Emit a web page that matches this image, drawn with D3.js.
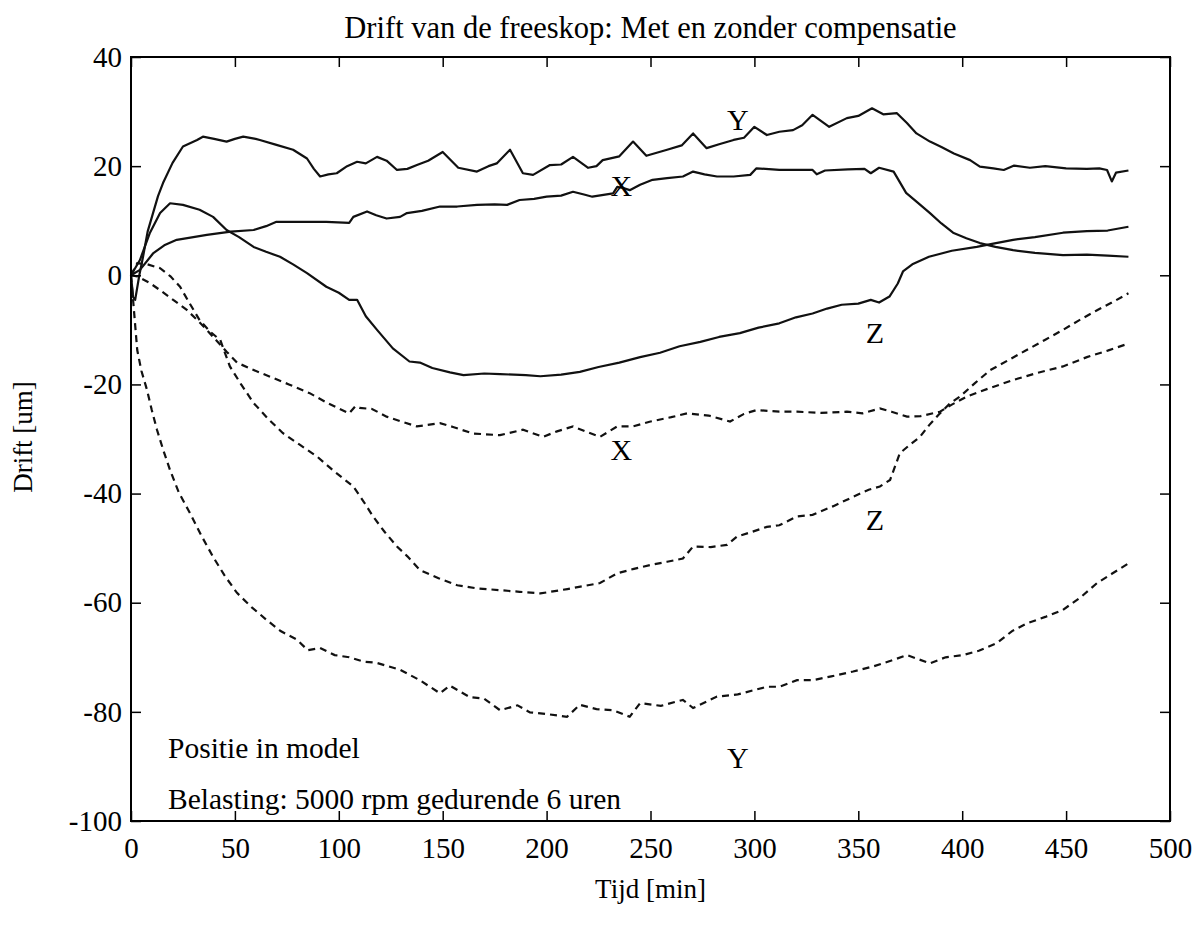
<!DOCTYPE html>
<html>
<head>
<meta charset="utf-8">
<script src="https://cdn.jsdelivr.net/npm/d3@7"></script>
<style>
  body { margin: 0; background: #fff; }
  text { font-family: "Liberation Serif", "Times New Roman", serif; fill: #000; }
</style>
</head>
<body>
<div id="chart"></div>
<script>
const solidY = [[0,0],[1,-4],[2,-4.5],[4,0],[5.8,3.4],[8,8],[10.6,11.4],[13,14.5],[15.4,16.9],[20,20.6],[25,23.6],[31.8,24.8],[34.6,25.4],[40,25],[46,24.5],[50,25],[54,25.4],[60,25],[62,24.8],[70,23.9],[78,23],[84.7,21.4],[88,19.5],[91,18.1],[95,18.5],[99,18.7],[104,20],[108.8,20.8],[113,20.5],[118.4,21.7],[123,21],[128,19.3],[133,19.5],[137.6,20.2],[143,21],[150,22.6],[157.5,19.7],[166.5,19],[172,20],[176,20.5],[182.4,23],[188.6,18.7],[193.5,18.4],[201.6,20.2],[207,20.3],[212.7,21.7],[220,19.7],[224,20],[227,21.1],[235,21.8],[241.6,24.5],[248,21.9],[258,23],[265,23.8],[270.5,26],[277,23.3],[283,24],[290,24.8],[295,25.2],[300,27.2],[306,25.7],[312,26.3],[318.6,26.6],[323,27.5],[328,29.4],[336,27.2],[344.5,28.8],[350,29.2],[356.6,30.6],[362,29.5],[368.6,29.7],[373.4,27.9],[378,26],[384.5,24.5],[390,23.5],[396,22.3],[403.8,21.1],[408.5,19.9],[415,19.6],[420,19.3],[425,20.1],[432.6,19.7],[440,20],[450,19.6],[460,19.5],[466,19.6],[469.7,19.3],[472,17.2],[474,18.8],[480,19.2]];

const solidX = [[0,0],[4.3,1],[10.6,4],[16,5.5],[22,6.5],[30,7],[36.5,7.4],[48,8],[59,8.3],[65,9],[70,9.8],[78,9.8],[84.7,9.8],[94,9.8],[105,9.6],[107,10.7],[113.6,11.7],[118,11],[123,10.4],[129.5,10.7],[132.8,11.4],[140,11.8],[148.7,12.6],[157,12.6],[166.5,12.9],[175,13],[181,12.9],[187,13.8],[194,14],[200,14.4],[207,14.6],[212.7,15.3],[218,14.8],[222,14.4],[232,15],[234,16.2],[237,16],[240,15.6],[245,16.6],[251,17.5],[258,17.8],[265.6,18.1],[270.5,19],[276,18.5],[282,18.1],[290,18.1],[298,18.4],[301,19.6],[312,19.3],[322,19.3],[328,19.3],[330,18.5],[334,19.2],[345,19.4],[353,19.5],[356,18.7],[360,19.7],[367,19],[373,15.1],[378,13.5],[384.5,11.4],[390,9.5],[395.6,7.8],[402,6.8],[408.5,5.9],[416,5.2],[424.5,4.6],[435,4.1],[448.5,3.7],[460,3.8],[470,3.6],[480,3.4]];

const solidZ = [[0,0],[4.3,2.8],[9,7.7],[14,11.4],[18.8,13.2],[25,12.9],[33,12],[39.5,10.7],[46,8.3],[52,7],[59,5.2],[65,4.3],[71.7,3.4],[78,2],[84.7,0.4],[94,-2.1],[100,-3.2],[105,-4.5],[108.8,-4.5],[113,-7.5],[118.4,-10],[126,-13.4],[134,-15.8],[139,-16],[145,-17],[153.5,-17.8],[160,-18.3],[170,-18],[177.6,-18.1],[190,-18.3],[197,-18.5],[207,-18.2],[216,-17.7],[225,-16.8],[235,-16],[245,-15],[254.6,-14.2],[264,-13],[274,-12.2],[283,-11.3],[293,-10.6],[302,-9.6],[312,-8.8],[320,-7.7],[328,-7],[335,-6.1],[342,-5.4],[350,-5.2],[356,-4.5],[360,-5],[365,-3.9],[369,-1.5],[371.5,0.7],[376,2],[384,3.4],[395,4.5],[407,5.2],[415,5.8],[424.5,6.5],[435,7],[448.5,7.8],[460,8.1],[470,8.2],[480,8.9]];

const dashX = [[0,0],[3,-0.2],[9,-1.4],[15,-3],[21,-4.7],[27,-6.4],[34,-9],[41,-11.9],[46,-14],[51,-16],[58,-17.2],[67,-18.6],[76,-20],[86,-21.6],[95,-23.5],[105,-25.3],[108,-24],[110,-24.3],[116,-24.5],[123,-25.9],[130,-26.8],[137.6,-27.7],[148.7,-27.1],[155,-27.8],[164.6,-29],[177.6,-29.3],[188.6,-28.3],[198.3,-29.6],[205,-28.6],[212.7,-27.7],[220,-28.8],[225.7,-29.6],[234,-27.7],[241.6,-27.7],[250,-26.8],[260,-26],[267.6,-25.3],[278,-25.7],[288.3,-26.8],[295,-25.4],[301,-24.7],[312,-25],[320.5,-25],[332,-25.2],[344.5,-25],[352,-25.3],[360.4,-24.4],[366,-25],[373.4,-25.9],[380,-25.8],[389.3,-25],[395,-23.7],[402.3,-22.2],[413,-20.7],[424.5,-19.2],[436,-17.9],[448.5,-16.7],[460,-15],[470,-13.8],[480,-12.5]];

const dashZ = [[0,0],[3,2.2],[8,2],[14,1.3],[19,-0.2],[23.6,-2.1],[28,-5],[33,-8.2],[38,-10.3],[43,-11.9],[47.6,-16.7],[53,-20],[59,-23.4],[66,-26.3],[73,-28.9],[81,-31],[89.5,-33.2],[98,-36],[107,-38.7],[112,-41.5],[116.5,-44.2],[122,-47],[128,-49.7],[133,-51.5],[139,-54],[148,-55.5],[157,-56.8],[167,-57.4],[177.6,-57.7],[187,-58],[197,-58.3],[210,-57.5],[225.7,-56.4],[234,-54.6],[242,-53.8],[249.8,-53.1],[258,-52.5],[265.6,-51.9],[270.5,-49.7],[279,-49.8],[286.8,-49.4],[291.6,-47.9],[299,-47],[306,-46.1],[312,-45.8],[320.5,-44.2],[328,-43.9],[338,-42.3],[347.5,-40.6],[355,-39.3],[360.4,-38.7],[365.3,-37.5],[370,-32.6],[375,-31],[379.7,-29.6],[384,-27.5],[389.3,-25.3],[394,-23.5],[399,-22.2],[406,-19.8],[413.4,-17.4],[422,-15.6],[431,-13.7],[440,-11.8],[448.5,-10],[456,-8.3],[464.9,-6.4],[472,-5],[480,-3.3]];

const dashY = [[0,0],[1,-4.5],[3,-13.7],[5,-17.5],[7.7,-21],[10,-24.7],[12.5,-28.3],[15.5,-32],[18.8,-35.7],[23,-39.8],[28.4,-43.6],[34,-47.8],[39.5,-51.6],[45,-55],[51,-58.2],[58,-60.8],[65.4,-63.2],[72,-65.2],[80,-66.8],[85,-68.7],[91,-68.3],[98,-69.6],[105,-70],[112,-70.8],[118,-71],[129.5,-72.3],[139,-74.2],[148.7,-76.6],[153.5,-75.2],[163,-77.3],[170,-77.6],[177.6,-79.7],[186,-78.8],[192,-80.1],[200,-80.4],[209.8,-80.9],[216,-78.7],[224,-79.5],[232,-79.7],[240,-80.9],[245,-78.4],[255,-78.9],[265.6,-77.8],[270.5,-79.3],[282,-77.2],[292,-76.8],[306,-75.4],[312,-75.4],[320.5,-74.2],[328,-74.2],[337,-73.5],[347.5,-72.6],[357,-71.7],[366.7,-70.5],[373.4,-69.6],[384.5,-71.1],[392,-70],[400.4,-69.6],[408,-68.8],[416.7,-67.4],[424,-65.2],[431,-63.8],[440,-62.6],[448.5,-61.3],[457,-59],[464.9,-56.4],[472,-54.7],[480,-52.8]];

// curve labels: [tekst, tijd, drift]
const curveLabels = [["Y",292,28.5],["X",236,16.4],["Z",358,-10.5],["X",236,-32],["Z",358,-44.8],["Y",292,-88.3]];

const xTicks = [0,50,100,150,200,250,300,350,400,450,500];
const yTicks = [-100,-80,-60,-40,-20,0,20,40];

const title = "Drift van de freeskop: Met en zonder compensatie";
const notes = ["Positie in model","Belasting: 5000 rpm gedurende 6 uren"];

const width = 1202, height = 929;
const margin = {top: 57, right: 32, bottom: 108, left: 131};

const svg = d3.select("#chart").append("svg")
  .attr("width", width).attr("height", height)
  .attr("viewBox", `0 0 ${width} ${height}`);

svg.append("rect").attr("width", width).attr("height", height).attr("fill", "#fff");

const x = d3.scaleLinear().domain([0, 500]).range([margin.left, width - margin.right]);
const y = d3.scaleLinear().domain([-100, 40]).range([height - margin.bottom, margin.top]);

const line = d3.line().x(d => x(d[0])).y(d => y(d[1]));

// curves
const solids = [solidY, solidX, solidZ];
const dashes = [dashX, dashZ, dashY];

solids.forEach(s => {
  svg.append("path").datum(s).attr("d", line)
    .attr("fill", "none").attr("stroke", "#111").attr("stroke-width", 2.2)
    .attr("stroke-linejoin", "round");
});
dashes.forEach(s => {
  svg.append("path").datum(s).attr("d", line)
    .attr("fill", "none").attr("stroke", "#111").attr("stroke-width", 2.2)
    .attr("stroke-dasharray", "7,5");
});

// axes, ticks inside
const fs = 29;
const axBottom = svg.append("g").attr("transform", `translate(0,${y(-100)})`)
  .call(d3.axisBottom(x).tickValues(xTicks).tickSize(-10).tickPadding(16).tickFormat(d3.format("d")));
const axTop = svg.append("g").attr("transform", `translate(0,${y(40)})`)
  .call(d3.axisTop(x).tickValues(xTicks).tickSize(-10).tickFormat(""));
const axLeft = svg.append("g").attr("transform", `translate(${x(0)},0)`)
  .call(d3.axisLeft(y).tickValues(yTicks).tickSize(-10).tickPadding(9).tickFormat(d => d < 0 ? "-" + Math.abs(d) : d));
const axRight = svg.append("g").attr("transform", `translate(${x(500)},0)`)
  .call(d3.axisRight(y).tickValues(yTicks).tickSize(-10).tickFormat(""));

[axBottom, axTop, axLeft, axRight].forEach(g => {
  g.select(".domain").remove();
  g.selectAll(".tick line").attr("stroke", "#000").attr("stroke-width", 1.5);
  g.selectAll("text").attr("font-family", "Liberation Serif").attr("font-size", fs).attr("fill", "#000");
});

svg.append("rect")
  .attr("x", x(0)).attr("y", y(40))
  .attr("width", x(500) - x(0)).attr("height", y(-100) - y(40))
  .attr("fill", "none").attr("stroke", "#000").attr("stroke-width", 2);

// curve labels
svg.selectAll(".clabel").data(curveLabels).enter().append("text")
  .attr("class", "clabel")
  .attr("x", d => x(d[1])).attr("y", d => y(d[2]))
  .attr("dy", "0.35em")
  .attr("text-anchor", "middle")
  .attr("font-size", 30)
  .text(d => d[0]);

// notes
svg.selectAll(".note").data(notes).enter().append("text")
  .attr("class", "note")
  .attr("x", 168).attr("y", (d, i) => 758 + i * 51)
  .attr("font-size", 29.5)
  .text(d => d);

svg.append("text").attr("x", (x(0) + x(500)) / 2).attr("y", 38)
  .attr("text-anchor", "middle").attr("font-size", 30.5).text(title);

svg.append("text").attr("x", (x(0) + x(500)) / 2).attr("y", 898)
  .attr("text-anchor", "middle").attr("font-size", 27).text("Tijd [min]");

svg.append("text").attr("transform", "translate(32,437) rotate(-90)")
  .attr("text-anchor", "middle").attr("font-size", 27).text("Drift [um]");
</script>
</body>
</html>
